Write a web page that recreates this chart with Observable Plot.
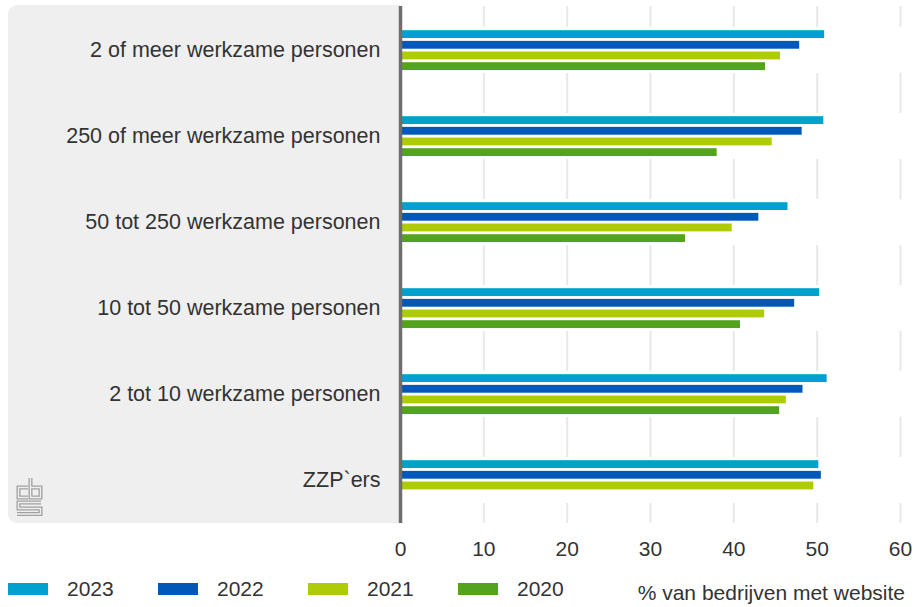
<!DOCTYPE html>
<html>
<head>
<meta charset="utf-8">
<script src="https://cdn.jsdelivr.net/npm/d3@7"></script>
<script src="https://cdn.jsdelivr.net/npm/@observablehq/plot@0.6"></script>
<style>
  html, body { margin: 0; padding: 0; background: #fff; }
  body { font-family: "Liberation Sans", Arial, sans-serif; color: #333; }
  #wrap { position: relative; width: 917px; height: 607px; overflow: hidden; }
  #panel { position: absolute; left: 8px; top: 5px; width: 392px; height: 518px;
           background: #efefef; border-radius: 9px 0 0 9px; }
  #logo { position: absolute; left: 16px; top: 477px; }
  #chart { position: absolute; left: 0; top: 0; }
  #chart g[aria-label="y-axis tick label"] { font-size: 21.5px; }
  #legend { position: absolute; left: 0; top: 577px; width: 917px; height: 26px; font-size: 21px; color: #333; }
  .item { position: absolute; top: 0; height: 26px; }
  .sw { position: absolute; left: 0; top: 6px; width: 40px; height: 12px; }
  .lab { position: absolute; left: 59px; top: 0; line-height: 24px; white-space: nowrap; }
  #xtitle { position: absolute; right: 12px; top: 4px; line-height: 24px; white-space: nowrap; }
</style>
</head>
<body>
<div id="wrap">
  <div id="panel"></div>
  <svg id="logo" width="28" height="40" viewBox="0 0 28 40">
    <g fill="none" stroke-linejoin="miter" stroke-linecap="butt">
      <g stroke="#a0a0a0" stroke-width="4">
        <path d="M12,10.5 H2.5 V20.5 H12"/>
        <path d="M14.5,1 V20.5 H24.5 V10.5 H14.5"/>
        <path d="M25,25.5 H2.5 V31.5 H24.5 V37 H1"/>
      </g>
      <g stroke="#efefef" stroke-width="1.4">
        <path d="M12,10.5 H2.5 V20.5 H12"/>
        <path d="M14.5,0 V20.5 H24.5 V10.5 H14.5"/>
        <path d="M26,25.5 H2.5 V31.5 H24.5 V37 H0"/>
      </g>
    </g>
  </svg>
  <div id="chart"></div>
  <div id="legend"></div>
</div>
<script>
const categories = [
  "2 of meer werkzame personen",
  "250 of meer werkzame personen",
  "50 tot 250 werkzame personen",
  "10 tot 50 werkzame personen",
  "2 tot 10 werkzame personen",
  "ZZP`ers"
];
const years = ["2023", "2022", "2021", "2020"];
const values2023 = [50.9, 50.8, 46.5, 50.3, 51.2, 50.2];
const values2022 = [47.9, 48.2, 43.0, 47.3, 48.3, 50.5];
const values2021 = [45.6, 44.6, 39.8, 43.7, 46.3, 49.6];
const values2020 = [43.8, 38.0, 34.2, 40.8, 45.5, null];
const xTicks = [0, 10, 20, 30, 40, 50, 60];
const colors = ["#00a1cd", "#0058b8", "#afcb05", "#53a31d"];
const xLabel = "% van bedrijven met website";

const series = [values2023, values2022, values2021, values2020];
const rows = [];
years.forEach((yr, i) => {
  categories.forEach((c, j) => {
    const v = series[i][j];
    if (v != null) rows.push({category: c, year: yr, value: v});
  });
});

const height = 570, marginTop = 6, marginBottom = 47;
const band = (height - marginTop - marginBottom) / categories.length;
const barH = 8, pitch = 10.67, firstOff = 23.2;

const barMarks = years.map((yr, i) => {
  const top = firstOff + i * pitch;
  return Plot.barX(rows.filter(d => d.year === yr), {
    y: "category", x: "value", fill: colors[i],
    insetTop: top, insetBottom: band - top - barH
  });
});

const chart = Plot.plot({
  width: 917,
  height,
  marginLeft: 400,
  marginRight: 17,
  marginTop,
  marginBottom,
  style: {background: "transparent", fontSize: "21px", fontFamily: "'Liberation Sans', Arial, sans-serif", color: "#333", overflow: "visible"},
  x: {domain: [0, 60], ticks: xTicks, tickSize: 0, tickPadding: 18, label: null, tickFormat: d => String(d)},
  y: {domain: categories, padding: 0, tickSize: 0, tickPadding: 20, label: null},
  marks: [
    Plot.ruleX(xTicks, {stroke: "#e8e8e8", strokeWidth: 2}),
    Plot.barX(categories, {y: d => d, x1: 0, x2: 60, fill: "white", insetTop: 20, insetBottom: 20, insetRight: -3}),
    ...barMarks,
    Plot.ruleX([0], {stroke: "#6e6e6e", strokeWidth: 3.5})
  ]
});
document.getElementById("chart").appendChild(chart);

const legend = document.getElementById("legend");
years.forEach((yr, i) => {
  const it = document.createElement("div");
  it.className = "item";
  it.style.left = (8 + i * 150) + "px";
  const sw = document.createElement("div");
  sw.className = "sw";
  sw.style.background = colors[i];
  const lab = document.createElement("div");
  lab.className = "lab";
  lab.textContent = yr;
  it.appendChild(sw);
  it.appendChild(lab);
  legend.appendChild(it);
});
const xt = document.createElement("div");
xt.id = "xtitle";
xt.textContent = xLabel;
legend.appendChild(xt);
</script>
</body>
</html>
